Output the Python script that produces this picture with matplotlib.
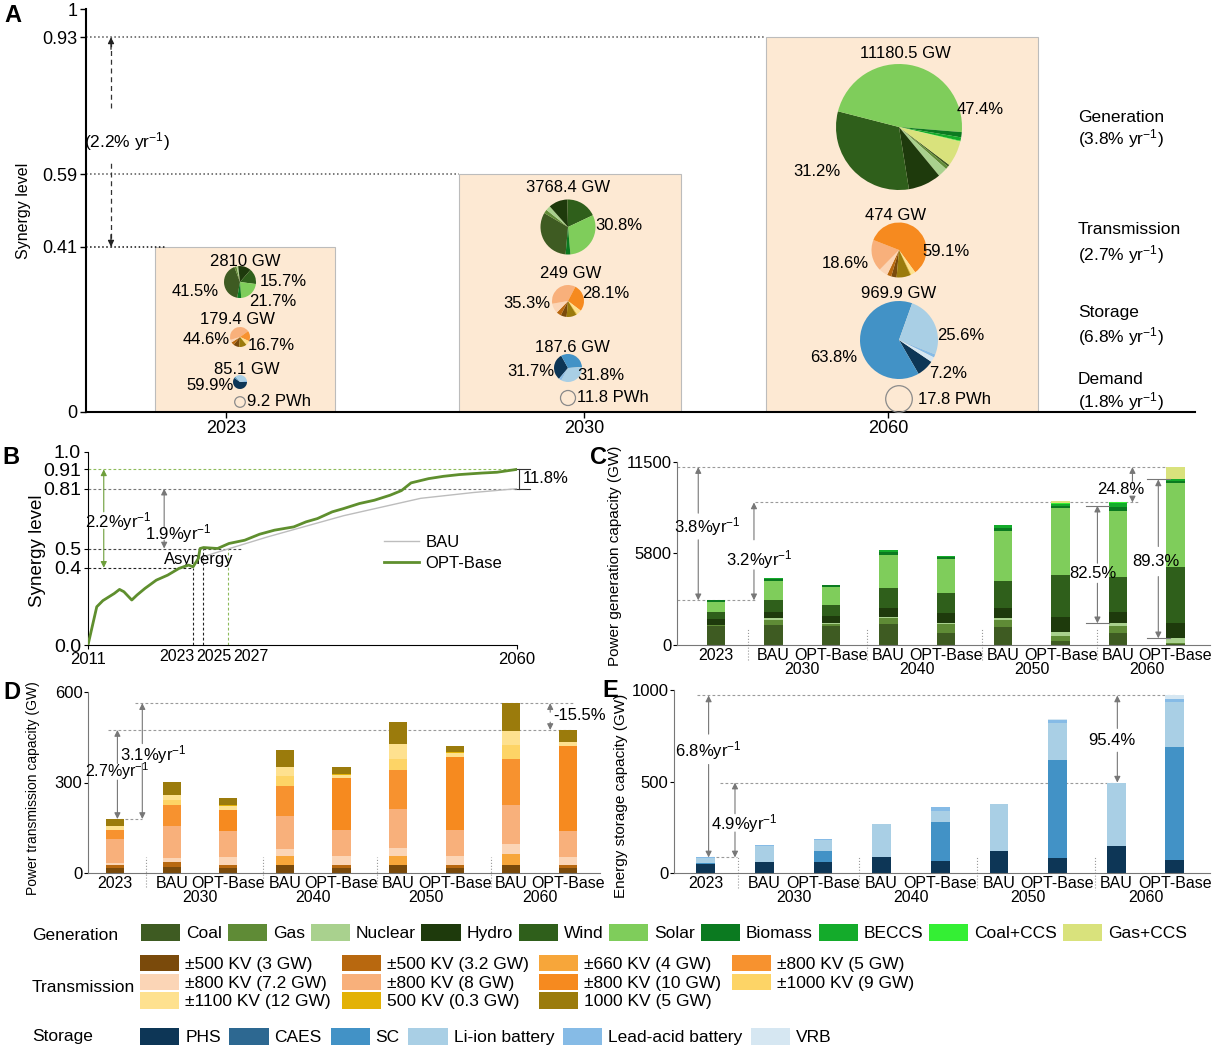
import numpy as np
import matplotlib.pyplot as plt
from matplotlib.patches import Rectangle, Circle, Patch

plt.rcParams['font.family'] = ['Liberation Sans', 'DejaVu Sans']
plt.rcParams['mathtext.fontset'] = 'custom'
plt.rcParams['mathtext.rm'] = 'Liberation Sans'
plt.rcParams['mathtext.it'] = 'Liberation Sans'

# ---------------- data ----------------
# Panel A: synergy level and size of the system in three snapshot years
a_years = ['2023', '2030', '2060']
a_synergy = [0.41, 0.59, 0.93]
a_gen_total = [2810, 3768.4, 11180.5]
a_trans_total = [179.4, 249, 474]
a_stor_total = [85.1, 187.6, 969.9]
a_demand = [9.2, 11.8, 17.8]  # PWh
a_gen_pct = [['15.7%', '21.7%', '41.5%'], ['30.8%'], ['47.4%', '31.2%']]
a_trans_pct = [['44.6%', '16.7%'], ['35.3%', '28.1%'], ['18.6%', '59.1%']]
a_stor_pct = [['59.9%'], ['31.7%', '31.8%'], ['25.6%', '63.8%', '7.2%']]
a_groups = ['Generation', 'Transmission', 'Storage', 'Demand']
a_group_rates = [3.8, 2.7, 6.8, 1.8]
a_rate = 2.2

# Panel B: synergy level trajectories
opt_years = [2011, 2012, 2012.7, 2014, 2014.6, 2015.1, 2016, 2016.6, 2017.5, 2018.8,
             2020.1, 2021.4, 2022.5, 2023, 2023.6, 2023.8, 2024.2, 2025.8, 2027.1, 2028.9,
             2030.6, 2032.3, 2034.5, 2035.9, 2037.2, 2038.9, 2040.2, 2042, 2043.7, 2045.5,
             2046.8, 2047.9, 2049.9, 2051.6, 2053.4, 2056, 2057.7, 2060]
opt_level = [0, 0.198, 0.23, 0.267, 0.288, 0.276, 0.233, 0.259, 0.293, 0.336,
             0.362, 0.397, 0.414, 0.405, 0.448, 0.5, 0.505, 0.5, 0.526, 0.543,
             0.574, 0.595, 0.612, 0.638, 0.655, 0.69, 0.707, 0.733, 0.75, 0.776,
             0.8, 0.84, 0.862, 0.874, 0.883, 0.891, 0.895, 0.91]
bau_years = [2011, 2012, 2012.7, 2014, 2014.6, 2015.1, 2016, 2016.6, 2017.5, 2018.8,
             2020.1, 2021.4, 2022.5, 2023, 2023.6, 2025.3, 2031.5, 2040.2, 2049, 2055, 2060]
bau_level = [0, 0.198, 0.23, 0.267, 0.288, 0.276, 0.233, 0.259, 0.293, 0.336,
             0.362, 0.397, 0.414, 0.405, 0.448, 0.474, 0.56, 0.67, 0.76, 0.79, 0.81]
b_cross_years = [2023, 2024.1, 2027]
b_cross_labels = ['2023', '2025', '2027']
b_rates = [2.2, 1.9]
b_gap = 11.8

# Panels C-E: installed capacity (GW)
bar_labels = ['2023', 'BAU', 'OPT-Base', 'BAU', 'OPT-Base', 'BAU', 'OPT-Base', 'BAU', 'OPT-Base']
group_years = ['2030', '2040', '2050', '2060']

gen_names = ['Coal', 'Gas', 'Nuclear', 'Hydro', 'Wind', 'Solar', 'Biomass', 'BECCS', 'Coal+CCS', 'Gas+CCS']
coal = [1166, 1259, 1208, 1322, 776, 1154, 280, 776, 60]
gas = [60, 315, 84, 357, 524, 420, 286, 420, 87]
nuclear = [50, 105, 105, 105, 105, 105, 273, 168, 273]
hydro = [370, 378, 420, 566, 587, 671, 902, 734, 944]
wind = [441, 776, 692, 1217, 1301, 1678, 2664, 2203, 3525]
solar = [610, 1217, 1154, 2098, 2098, 3105, 4196, 4091, 5287]
biomass = [113, 100, 105, 150, 110, 200, 150, 300, 150]
beccs = [0, 47, 0, 165, 100, 200, 140, 230, 100]
coal_ccs = [0, 0, 0, 0, 0, 20, 25, 36, 20]
gas_ccs = [0, 0, 0, 0, 0, 0, 105, 0, 734]
gen_clean_share = [82.5, 89.3]  # % of BAU / OPT-Base 2060
c_rates = [3.8, 3.2]
c_gap = 24.8

trans_names = ['±500 KV (3 GW)', '±500 KV (3.2 GW)', '±660 KV (4 GW)', '±800 KV (7.2 GW)',
               '±800 KV (8 GW)', '±800 KV (5 GW)', '±800 KV (10 GW)', '±1000 KV (9 GW)',
               '±1100 KV (12 GW)', '500 KV (0.3 GW)', '1000 KV (5 GW)']
kv500_3 = [17, 20, 15, 28, 15, 28, 15, 28, 15]
kv500_32 = [9, 15, 12, 0, 12, 0, 12, 0, 12]
kv660_4 = [0, 0, 0, 28, 0, 28, 0, 35, 0]
kv800_72 = [8, 16, 25, 23, 28, 28, 28, 34, 25]
kv800_8 = [80, 105, 88, 110, 88, 128, 88, 129, 88]
kv800_5 = [30, 69, 0, 101, 0, 130, 0, 152, 0]
kv800_10 = [0, 0, 69, 0, 171, 0, 242, 0, 280]
kv1000_9 = [0, 17, 0, 33, 0, 36, 0, 46, 0]
kv1100_12 = [13, 17, 13, 30, 12, 50, 13, 47, 13]
kv500_03 = [0, 0, 2, 0, 2, 0, 2, 0, 2]
kv1000_5 = [22, 42, 25, 54, 24, 74, 22, 92, 39]
d_rates = [3.1, 2.7]
d_gap = -15.5

stor_names = ['PHS', 'CAES', 'SC', 'Li-ion battery', 'Lead-acid battery', 'VRB']
phs = [51, 60, 58, 88, 66, 118, 82, 146, 70]
caes = [0, 0, 0, 0, 0, 0, 0, 0, 0]
sc = [3, 0, 60, 0, 210, 0, 534, 0, 619]
li_ion = [28, 86, 64, 178, 64, 258, 204, 348, 248]
lead_acid = [3, 5, 6, 0, 22, 0, 15, 0, 13]
vrb = [0, 0, 0, 0, 0, 0, 6, 0, 20]
e_rates = [6.8, 4.9]
e_gap = 95.4

gen_series = [coal, gas, nuclear, hydro, wind, solar, biomass, beccs, coal_ccs, gas_ccs]
trans_series = [kv500_3, kv500_32, kv660_4, kv800_72, kv800_8, kv800_5, kv800_10,
                kv1000_9, kv1100_12, kv500_03, kv1000_5]
stor_series = [phs, caes, sc, li_ion, lead_acid, vrb]

# ---------------- styles ----------------
gen_colors = ['#3e5b22', '#5f8b36', '#a9d18e', '#1e3a0c', '#2f5f1b', '#7fcd5b',
              '#0b7a20', '#14ab2b', '#34ef34', '#d9e27c']
trans_colors = ['#7a4a0b', '#b8680f', '#f7a63a', '#fbd5b6', '#f8b07b', '#f7922f',
                '#f68a1f', '#fdd466', '#fee18f', '#e3b206', '#9b7b0c']
stor_colors = ['#0d3656', '#2d6891', '#4292c6', '#a9cfe5', '#86bbe6', '#d6e7f2']
box_color = '#fde9d3'
guide_grey = '#9a9a9a'
arrow_grey = '#777777'

W, H = 1218, 1051
fig = plt.figure(figsize=(W / 100, H / 100), dpi=100)


def frame(l, t, r, b):
    # pixel box (top-left origin) -> figure fraction
    return [l / W, 1 - b / H, (r - l) / W, (b - t) / H]


def gap_arrow(ax, x, y0, y1, g0, g1, color=arrow_grey, lw=0.8):
    # double arrow from y0 to y1 with a gap (g0..g1) left for a label
    for tip, tail in ((y1, g1), (y0, g0)):
        ax.annotate('', xy=(x, tip), xytext=(x, tail),
                    arrowprops=dict(arrowstyle='-|>', color=color, lw=lw,
                                    mutation_scale=9, shrinkA=0, shrinkB=0))


def guide(ax, y, x0, x1, color=guide_grey):
    ax.plot([x0, x1], [y, y], ls=(0, (2.5, 2)), color=color, lw=0.8, zorder=1)


def rate(v):
    return '%g%%yr$^{-1}$' % v


# ================= Panel A =================
axA = fig.add_axes(frame(86, 9, 1195, 412))
axA.set_xlim(86, 1195)
axA.set_ylim(0, 1)
for s in ['top', 'right']:
    axA.spines[s].set_visible(False)
for s in ['left', 'bottom']:
    axA.spines[s].set_linewidth(1.5)
axA.set_yticks([0] + a_synergy + [1])
axA.set_yticklabels(['0'] + ['%g' % v for v in a_synergy] + ['1'])
axA.set_xticks([226, 584, 888])
axA.set_xticklabels(a_years)
axA.tick_params(labelsize=13, length=4, width=1, pad=2)
axA.set_ylabel('Synergy level', fontsize=11.5)
axA.yaxis.set_label_coords(-0.05, 0.5)

box_x = [(155, 335), (459, 681), (766, 1038)]
for (x0, x1), s in zip(box_x, a_synergy):
    axA.add_patch(Rectangle((x0, 0), x1 - x0, s, facecolor=box_color,
                            edgecolor='#bcbcbc', lw=0.8, zorder=1))
axA.plot([86, box_x[2][0]], [a_synergy[2]] * 2, ls=':', color='#555555', lw=1.1, zorder=2)
axA.plot([86, box_x[1][0]], [a_synergy[1]] * 2, ls=':', color='#555555', lw=1.1, zorder=2)
axA.plot([86, 165], [a_synergy[0]] * 2, ls=':', color='#111111', lw=1.1, zorder=2)
axA.plot([111, 111], [a_synergy[0], 0.625], ls=(0, (4, 3)), color='#333333', lw=0.9)
axA.plot([111, 111], [0.754, a_synergy[2]], ls=(0, (4, 3)), color='#333333', lw=0.9)
for tip, tail in ((a_synergy[2], a_synergy[2] - 0.03), (a_synergy[0], a_synergy[0] + 0.03)):
    axA.annotate('', xy=(111, tip), xytext=(111, tail),
                 arrowprops=dict(arrowstyle='-|>', color='#222222', lw=0.9,
                                 mutation_scale=9, shrinkA=0, shrinkB=0))
axA.text(127, 0.672, '(%g%% yr$^{-1}$)' % a_rate, ha='center', va='center', fontsize=12.5)

# ---- overlay in figure pixels: pies and their labels
ov = fig.add_axes([0, 0, 1, 1], zorder=5)
snap = [0, 2, 8]
pie_x = [240, 568, 899]
gen_y, gen_r, gen_start = [282, 227, 127], [16, 27.5, 63], [260, 265, 323]
trans_y, trans_r, trans_start = [337, 301, 250], [10, 16, 27.5], [265, 265, 265]
stor_y, stor_r, stor_start = [382, 368, 340], [7, 14, 39], [0, 230, 326]
dem_y, dem_r = [402, 398, 399], [5.3, 7.5, 13.3]

for i, k in enumerate(snap):
    for series, colors, ys, rs, st in ((gen_series, gen_colors, gen_y, gen_r, gen_start),
                                       (trans_series, trans_colors, trans_y, trans_r, trans_start),
                                       (stor_series, stor_colors, stor_y, stor_r, stor_start)):
        ov.pie([s[k] for s in series], colors=colors, radius=rs[i],
               center=(pie_x[i], H - ys[i]), startangle=st[i], counterclock=False,
               frame=True, wedgeprops=dict(linewidth=0))
    ov.add_patch(Circle((pie_x[i], H - dem_y[i]), dem_r[i], fill=False,
                        edgecolor='#8a8a8a', lw=0.9))

gen_lbl_xy = [(245, 261), (568, 188), (905, 53)]
trans_lbl_xy = [(237, 320), (571, 274), (896, 216)]
stor_lbl_xy = [(247, 369), (572, 347), (899, 294)]
dem_lbl_x = [247, 577, 918]
gen_pct_xy = [[(283, 282), (273, 301), (195, 292)], [(619, 226)], [(980, 109), (817, 171)]]
trans_pct_xy = [[(206, 339), (271, 346)], [(527, 304), (606, 293)], [(845, 263), (946, 252)]]
stor_pct_xy = [[(210, 386)], [(531, 372), (601, 375)], [(961, 336), (834, 358), (948, 373)]]

for i in range(3):
    for tot, xy in ((a_gen_total[i], gen_lbl_xy[i]), (a_trans_total[i], trans_lbl_xy[i]),
                    (a_stor_total[i], stor_lbl_xy[i])):
        ov.text(xy[0], H - xy[1], '%g GW' % tot, ha='center', va='center', fontsize=12)
    ov.text(dem_lbl_x[i], H - dem_y[i], '%g PWh' % a_demand[i], ha='left', va='center', fontsize=12)
    for labels, xys in ((a_gen_pct[i], gen_pct_xy[i]), (a_trans_pct[i], trans_pct_xy[i]),
                        (a_stor_pct[i], stor_pct_xy[i])):
        for lbl, (x, y) in zip(labels, xys):
            ov.text(x, H - y, lbl, ha='center', va='center', fontsize=12)

group_y = [(117, 139), (230, 255), (313, 337), (380, 402)]
for name, r, (y1, y2) in zip(a_groups, a_group_rates, group_y):
    ov.text(1078, H - y1, name, ha='left', va='center', fontsize=12.5)
    ov.text(1078, H - y2, '(%g%% yr$^{-1}$)' % r, ha='left', va='center', fontsize=12.5)

ov.set_xlim(0, W)
ov.set_ylim(0, H)
ov.set_aspect('auto')
ov.set_axis_off()

# ================= Panel B =================
axB = fig.add_axes(frame(88, 452, 517, 645))
axB.plot(bau_years, bau_level, color='#bdbdbd', lw=1.0, label='BAU', zorder=3)
axB.plot(opt_years, opt_level, color='#5f8f2e', lw=2.0, label='OPT-Base', zorder=4)
axB.set_xlim(2011, 2060)
axB.set_ylim(0, 1)
for s in ['top', 'right']:
    axB.spines[s].set_visible(False)
axB.set_yticks([0, 0.4, 0.5, 0.81, 0.91, 1.0])
axB.set_yticklabels(['0.0', '0.4', '0.5', '0.81', '0.91', '1.0'])
axB.set_xticks([2011, 2060])
axB.tick_params(axis='y', labelsize=14, length=3, pad=2)
axB.tick_params(axis='x', labelsize=12, length=3, pad=2)
for yr, lbl, ha in zip([2023.2, 2025.4, 2027.6], b_cross_labels, ['right', 'center', 'left']):
    axB.text(yr, -0.02, lbl, transform=axB.get_xaxis_transform(), ha=ha, va='top', fontsize=11.5)
axB.set_ylabel('Synergy level', fontsize=13.5)
axB.yaxis.set_label_coords(-0.098, 0.49)

green_guide = '#8dbb5a'
guide(axB, opt_level[-1], 2011, 2060, green_guide)
guide(axB, bau_level[-1], 2011, 2060, '#777777')
guide(axB, 0.5, 2011, 2028.5, '#444444')
guide(axB, 0.4, 2011, b_cross_years[0], '#222222')
for yr, top, c in zip(b_cross_years, [0.4, 0.5, 0.5], ['#222222', '#222222', green_guide]):
    axB.plot([yr, yr], [0, top], ls=(0, (2.5, 2)), color=c, lw=0.8, zorder=1)
gap_arrow(axB, 2012.8, 0.4, opt_level[-1], 0.60, 0.69, color='#6d9e3a')
axB.text(2014.5, 0.64, rate(b_rates[0]), ha='center', va='center', fontsize=12)
gap_arrow(axB, 2019.7, 0.5, bau_level[-1], 0.543, 0.612)
axB.text(2021.3, 0.575, rate(b_rates[1]), ha='center', va='center', fontsize=12)
axB.text(2023.7, 0.445, 'Asynergy', ha='center', va='center', fontsize=12)
for y in (bau_level[-1], opt_level[-1]):
    axB.plot([2059.8, 2061.5], [y, y], color='#333333', lw=0.8, clip_on=False)
axB.plot([2060.2, 2060.2], [bau_level[-1], opt_level[-1]], color='#333333', lw=0.8, clip_on=False)
axB.text(2060.7, 0.862, '%g%%' % b_gap, ha='left', va='center', fontsize=12, clip_on=False)
axB.legend(loc='upper left', bbox_to_anchor=(0.69, 0.57), frameon=False, fontsize=12,
           handlelength=2.1, handletextpad=0.4, labelspacing=0.35, borderpad=0, borderaxespad=0)


# ================= Panels C, D, E =================
def stacked_bars(ax, series, colors, left, right):
    x = np.arange(len(bar_labels))
    bottom = np.zeros(len(x))
    for vals, c in zip(series, colors):
        ax.bar(x, vals, 0.32, bottom=bottom, color=c, linewidth=0, zorder=2)
        bottom = bottom + np.asarray(vals, float)
    ax.set_xlim(left, right)
    ax.set_xticks(x)
    ax.set_xticklabels(bar_labels)
    ax.tick_params(axis='x', length=0, pad=2, labelsize=11.5)
    ax.tick_params(axis='y', length=3, labelsize=12, pad=1)
    for s in ['top', 'right']:
        ax.spines[s].set_visible(False)
    for s in ['left', 'bottom']:
        ax.spines[s].set_color('#777777')
    for gx, yr in zip([1.5, 3.5, 5.5, 7.5], group_years):
        ax.annotate(yr, xy=(gx, 0), xycoords=('data', 'axes fraction'), xytext=(0, -12.5),
                    textcoords='offset points', ha='center', va='top', fontsize=11.5)
    for sx in [0.55, 2.62, 4.63, 6.64]:
        ax.plot([sx, sx], [-0.08, 0.09], transform=ax.get_xaxis_transform(), ls=':',
                color='#999999', lw=0.8, clip_on=False)
    return bottom


# ---- C: generation
axC = fig.add_axes(frame(677, 462, 1210, 645))
tot = stacked_bars(axC, gen_series, gen_colors, -0.68, 8.6)
axC.set_ylim(0, 11500)
axC.set_yticks([0, 5800, 11500])
axC.set_ylabel('Power generation capacity (GW)', fontsize=11)
axC.yaxis.set_label_coords(-0.103, 0.49)
guide(axC, tot[8], -0.68, 7.85)
guide(axC, tot[0], -0.68, 0.68)
guide(axC, tot[7], 0.68, 7.35)
gap_arrow(axC, -0.31, tot[0], tot[8], 6610, 8285)
axC.text(-0.15, 7450, rate(c_rates[0]), ha='center', va='center', fontsize=12)
gap_arrow(axC, 0.66, tot[0], tot[7], 4720, 6610)
axC.text(0.75, 5350, rate(c_rates[1]), ha='center', va='center', fontsize=12)
gap_arrow(axC, 7.25, tot[7], tot[8], 9130, 10280)
axC.text(7.04, 9750, '%g%%' % c_gap, ha='center', va='center', fontsize=12)
fossil = np.sum(gen_series[:3], axis=0)
for k, xa, share, gap, tx in ((7, 6.64, gen_clean_share[0], (3880, 5140), 6.56),
                              (8, 7.70, gen_clean_share[1], (4300, 6190), 7.65)):
    lo, hi = fossil[k], fossil[k] + share / 100 * tot[k]
    gap_arrow(axC, xa, lo, hi, gap[0], gap[1])
    for y in (lo, hi):
        axC.plot([xa - 0.2, xa + 0.2], [y, y], color=arrow_grey, lw=0.8, zorder=3)
    axC.text(tx, (gap[0] + gap[1]) / 2, '%g%%' % share, ha='center', va='center',
             fontsize=12, zorder=4)

# ---- D: transmission
axD = fig.add_axes(frame(88, 692, 600, 873))
tot = stacked_bars(axD, trans_series, trans_colors, -0.48, 8.57)
axD.set_ylim(0, 600)
axD.set_yticks([0, 300, 600])
axD.set_ylabel('Power transmission capacity (GW)', fontsize=10)
axD.yaxis.set_label_coords(-0.094, 0.47)
guide(axD, tot[7], 0.35, 8.1)
guide(axD, tot[8], -0.12, 8.1)
guide(axD, tot[0], 0, 0.47)
gap_arrow(axD, 0.48, tot[0], tot[7], 363, 429)
axD.text(0.68, 394, rate(d_rates[0]), ha='center', va='center', fontsize=12)
gap_arrow(axD, 0.04, tot[0], tot[8], 308, 363)
axD.text(0.03, 336, rate(d_rates[1]), ha='center', va='center', fontsize=11.5)
gap_arrow(axD, 7.69, tot[8], tot[7], 500, 533)
axD.text(7.74, 523, '%g%%' % d_gap, ha='left', va='center', fontsize=12, clip_on=False)

# ---- E: storage
axE = fig.add_axes(frame(674, 690, 1210, 873))
tot = stacked_bars(axE, stor_series, stor_colors, -0.54, 8.6)
axE.set_ylim(0, 1000)
axE.set_yticks([0, 500, 1000])
axE.set_ylabel('Energy storage capacity (GW)', fontsize=11)
axE.yaxis.set_label_coords(-0.086, 0.42)
guide(axE, tot[8], -0.15, 8.0)
guide(axE, tot[7], 0.24, 7.0)
guide(axE, tot[0], 0, 0.54)
gap_arrow(axE, 0.05, tot[0], tot[8], 593, 759)
axE.text(0.05, 667, rate(e_rates[0]), ha='center', va='center', fontsize=12)
gap_arrow(axE, 0.5, tot[0], tot[7], 224, 324)
axE.text(0.66, 270, rate(e_rates[1]), ha='center', va='center', fontsize=12)
gap_arrow(axE, 7.02, tot[7], tot[8], 660, 790)
axE.text(6.93, 722, '%g%%' % e_gap, ha='center', va='center', fontsize=12)


# ================= legends =================
def swatches(names, colors, order=None):
    order = order if order is not None else range(len(names))
    return [Patch(facecolor=colors[i], edgecolor='none') for i in order], [names[i] for i in order]


h, l = swatches(gen_names, gen_colors)
fig.legend(h, l, loc='upper left', bbox_to_anchor=(141 / W, 1 - 924 / H), ncol=10, frameon=False,
           fontsize=12.5, handlelength=2.25, handleheight=1.15, handletextpad=0.35,
           columnspacing=0.33, borderpad=0, borderaxespad=0)
h, l = swatches(trans_names, trans_colors, [0, 3, 8, 1, 4, 9, 2, 6, 10, 5, 7])
fig.legend(h, l, loc='upper left', bbox_to_anchor=(140 / W, 1 - 955 / H), ncol=4, frameon=False,
           fontsize=12.5, handlelength=2.25, handleheight=1.05, handletextpad=0.35,
           columnspacing=0.62, labelspacing=0.1, borderpad=0, borderaxespad=0)
h, l = swatches(stor_names, stor_colors)
fig.legend(h, l, loc='upper left', bbox_to_anchor=(140 / W, 1 - 1028 / H), ncol=6, frameon=False,
           fontsize=12.5, handlelength=2.25, handleheight=1.15, handletextpad=0.35,
           columnspacing=0.5, borderpad=0, borderaxespad=0)
for name, y in (('Generation', 935), ('Transmission', 988), ('Storage', 1037)):
    fig.text(32 / W, 1 - y / H, name, ha='left', va='center', fontsize=12.5)

# panel letters
for letter, x, y in (('A', 4, 4), ('B', 2, 446), ('C', 590, 446), ('D', 3, 681), ('E', 602, 679)):
    fig.text(x / W, 1 - y / H, letter, ha='left', va='top', fontsize=17, fontweight='bold')

fig.savefig('out.png', dpi=100)
